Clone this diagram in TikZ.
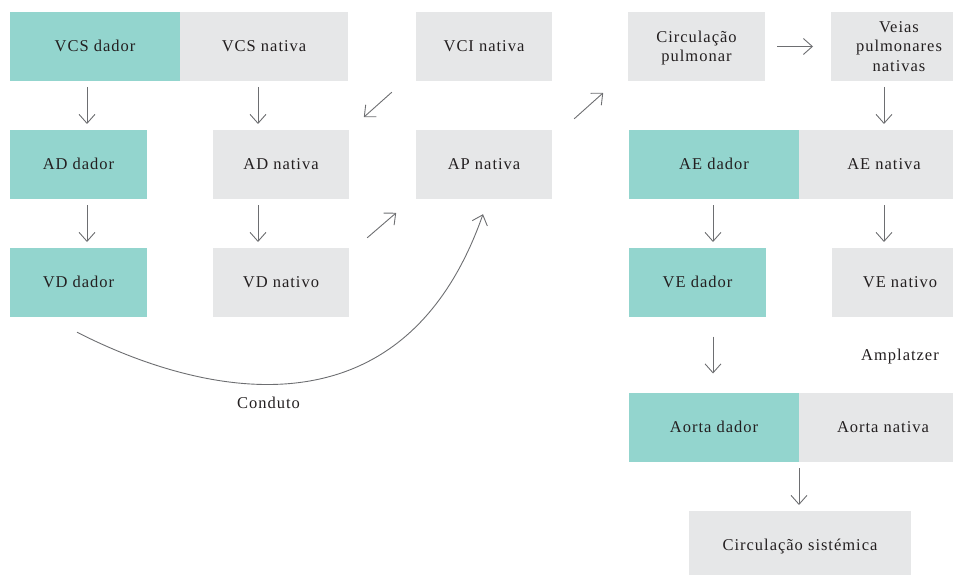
\documentclass[tikz,border=0pt]{standalone}
\usepackage{fontspec}
\setmainfont{Liberation Serif}
\newfontfamily\caixafont{Liberation Serif}[LetterSpace=6]
\usetikzlibrary{arrows.meta,calc}
\definecolor{corDador}{HTML}{93D5CE}
\definecolor{corNativa}{HTML}{E6E7E8}
\definecolor{corSeta}{HTML}{6D6E71}
\definecolor{corTexto}{HTML}{231F20}
\begin{document}
\begin{tikzpicture}[x=1pt,y=-1pt]
				\tikzstyle{rotulo}=[text=corTexto,font=\caixafont\fontsize{16.5}{19.5}\selectfont]
				\tikzstyle{caixa}=[rotulo,inner sep=0,minimum height=69pt,align=center,text height=10.9pt,text depth=0pt]
				\tikzstyle{dador node}=[caixa,fill=corDador]
				\tikzstyle{nativa node}=[caixa,fill=corNativa]
				\tikzstyle{seta}=[draw=corSeta,line width=0.9pt,-{Straight Barb[length=9pt,width=16pt]}]
				\clip (0,0) rectangle (953,575);
				% linha 1
				\node(vcsd)[dador node,minimum width=170pt] at (95,46.5){VCS dador};
				\node(vcsn)[nativa node,minimum width=168pt] at (264,46.5){VCS nativa};
				\node(vcin)[nativa node,minimum width=136pt] at (484,46.5){VCI nativa};
				\node(cp)[nativa node,minimum width=137pt,text height=30.4pt] at (696.5,46.5){Circulação\\pulmonar};
				\node(vp)[nativa node,minimum width=136pt,text height=49.9pt] at (899,46.5){Veias\\pulmonares\\nativas};
				% linha 2
				\node(add)[dador node,minimum width=137pt] at (78.5,164.5){AD dador};
				\node(adn)[nativa node,minimum width=136pt] at (281,164.5){AD nativa};
				\node(apn)[nativa node,minimum width=136pt] at (484,164.5){AP nativa};
				\node(aed)[dador node,minimum width=170pt] at (714,164.5){AE dador};
				\node(aen)[nativa node,minimum width=170pt] at (884,164.5){AE nativa};
				% linha 3
				\node(vdd)[dador node,minimum width=137pt] at (78.5,282.5){VD dador};
				\node(vdn)[nativa node,minimum width=136pt] at (281,282.5){VD nativo};
				\node(ved)[dador node,minimum width=137pt] at (697.5,282.5){VE dador};
				\node(ven)[nativa node,minimum width=136pt] at (900,282.5){VE nativo};
				\node(amplatzer)[rotulo,anchor=base] at (900,360){Amplatzer};
				% aorta
				\node(aod)[dador node,minimum width=170pt] at (714,427.5){Aorta dador};
				\node(aon)[nativa node,minimum width=168pt] at (883,427.5){Aorta nativa};
				\node(cs)[nativa node,minimum width=222pt] at (800,545.5){Circulação sistémica};
				% setas
				\foreach \x/\a/\b in {87/vcsd/add,258/vcsn/adn,87/add/vdd,258/adn/vdn,884/vp/aen,713/aed/ved,884/aen/ven,713/ved/aod,799/aod/cs}
					\draw[seta]($(\x,0 |- \a.south)!0.5!(\x,0 |- \b.north)$) +(0,-18.5) -- +(0,18.5);
				\draw[seta]($(cp.east)!0.5!(vp.west)$) +(-21,0) -- +(15,0);
				\draw[seta](vcin.south west) +(-24,11) -- +(-52,36);
				\draw[seta](apn.north east) +(22,-11) -- +(51,-37);
				\draw[seta](vdn.north east) +(18,-10) -- +(47,-35);
				\draw[seta]([shift={(-1.5,15)}]vdd.south) .. controls (190,390) and (400,450) .. ([shift={(-1,15)}]apn.south);
				\node(conduto)[rotulo,anchor=base] at (268.5,408){Conduto};
			\end{tikzpicture}
\end{document}
